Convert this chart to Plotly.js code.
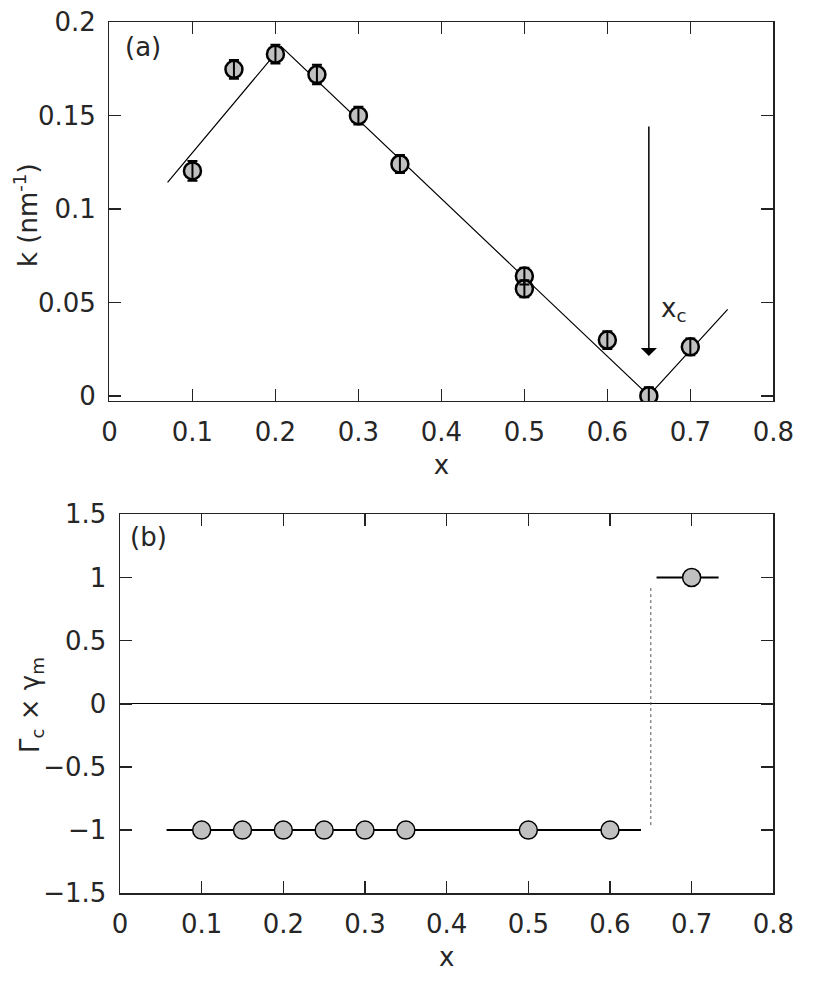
<!DOCTYPE html>
<html>
<head>
<meta charset="utf-8">
<script src="https://cdn.plot.ly/plotly-3.0.1.min.js"></script>
<style>html,body{margin:0;padding:0;background:#fff;}#chart{width:830px;height:1003px;}</style>
</head>
<body>
<div id="chart"></div>
<script>
// ---- panel (a) data ----
const xA   = [0.1, 0.15, 0.2, 0.25, 0.3, 0.35, 0.5, 0.5, 0.6, 0.65, 0.7];
const kA   = [0.1204, 0.1748, 0.1829, 0.1720, 0.1500, 0.1241, 0.0641, 0.0573, 0.0298, 0.0000, 0.0262];
const kErr = [0.0053, 0.0050, 0.0050, 0.0052, 0.0048, 0.0048, 0.0045, 0.0045, 0.0048, 0.0045, 0.0045];
const fitX = [0.07, 0.207, 0.65, 0.745];
const fitY = [0.1143, 0.187, 0.0, 0.0463];
const arrowX = 0.65, arrowTail = 0.145, arrowTip = 0.0213;

// ---- panel (b) data ----
const xB = [0.1, 0.15, 0.2, 0.25, 0.3, 0.35, 0.5, 0.6, 0.7];
const gB = [-1, -1, -1, -1, -1, -1, -1, -1, 1];
const lowX = [0.057, 0.638], lowY = [-1, -1];
const highX = [0.657, 0.733], highY = [1, 1];
const dotX = [0.65, 0.65], dotY = [-0.96, 0.934];

const xTicks = [0, 0.1, 0.2, 0.3, 0.4, 0.5, 0.6, 0.7, 0.8];
const xTickText = ['0', '0.1', '0.2', '0.3', '0.4', '0.5', '0.6', '0.7', '0.8'];
const kTicks = [0, 0.05, 0.1, 0.15, 0.2];
const kTickText = ['0', '0.05', '0.1', '0.15', '0.2'];
const gTicks = [-1.5, -1, -0.5, 0, 0.5, 1, 1.5];
const gTickText = ['\u22121.5', '\u22121', '\u22120.5', '0', '0.5', '1', '1.5'];

const TXT = '#262626';
const FONT = '"DejaVu Sans", sans-serif';
const FILL = '#c0c0c0';

const traces = [
  {x: fitX, y: fitY, xaxis: 'x', yaxis: 'y', mode: 'lines', line: {color: '#000', width: 1.2}, hoverinfo: 'skip'},
  {x: xA, y: kA, xaxis: 'x', yaxis: 'y', mode: 'markers',
   marker: {size: 17, color: FILL, line: {color: '#000', width: 2.5}}},
  {x: xA, y: kA, xaxis: 'x', yaxis: 'y', mode: 'markers',
   marker: {size: 1, opacity: 0},
   error_y: {type: 'data', array: kErr, symmetric: true, color: '#000', thickness: 2, width: 5}},
  {x: lowX, y: lowY, xaxis: 'x2', yaxis: 'y2', mode: 'lines', line: {color: '#000', width: 2}},
  {x: highX, y: highY, xaxis: 'x2', yaxis: 'y2', mode: 'lines', line: {color: '#000', width: 2}},
  {x: dotX, y: dotY, xaxis: 'x2', yaxis: 'y2', mode: 'lines', line: {color: '#555', width: 1, dash: 'dot'}},
  {x: xB, y: gB, xaxis: 'x2', yaxis: 'y2', mode: 'markers',
   marker: {size: 18, color: FILL, line: {color: '#000', width: 1.5}}}
];

const axisBase = {
  showline: true, mirror: 'ticks', linecolor: '#222', linewidth: 1.5,
  ticks: 'inside', ticklen: 12, tickwidth: 1.5, tickcolor: '#222',
  showgrid: false, zeroline: false,
  tickfont: {family: FONT, size: 26, color: TXT},
  ticklabelstandoff: 7
};

const layout = {
  width: 830, height: 1003,
  margin: {l: 0, r: 0, t: 0, b: 0},
  paper_bgcolor: '#fff', plot_bgcolor: '#fff',
  showlegend: false,
  font: {family: FONT, color: TXT},
  xaxis: Object.assign({}, axisBase, {
    domain: [0.1319, 0.9317], range: [0, 0.8], anchor: 'y',
    tickvals: xTicks, ticktext: xTickText,
    title: {text: 'x', font: {family: FONT, size: 26, color: TXT}, standoff: 10}
  }),
  yaxis: Object.assign({}, axisBase, {
    domain: [0.6002, 0.9778], range: [-0.0028, 0.2], anchor: 'x',
    tickvals: kTicks, ticktext: kTickText
  }),
  xaxis2: Object.assign({}, axisBase, {
    domain: [0.1446, 0.9317], range: [0, 0.8], anchor: 'y2',
    tickvals: xTicks, ticktext: xTickText,
    title: {text: 'x', font: {family: FONT, size: 26, color: TXT}, standoff: 10}
  }),
  yaxis2: Object.assign({}, axisBase, {
    domain: [0.1094, 0.4872], range: [-1.5, 1.5], anchor: 'x2',
    tickvals: gTicks, ticktext: gTickText,
    zeroline: true, zerolinecolor: '#000', zerolinewidth: 1.2
  }),
  annotations: [
    {x: 0.0313, y: 0.7856, xref: 'paper', yref: 'paper', xanchor: 'center', yanchor: 'middle', showarrow: false,
     textangle: -90, text: 'k (nm<sup>-1</sup>)', font: {family: FONT, size: 26, color: TXT}},
    {x: 0.0373, y: 0.297, xref: 'paper', yref: 'paper', xanchor: 'center', yanchor: 'middle', showarrow: false,
     textangle: -90, text: '\u0393<sub>c</sub> \u00d7 \u03b3<sub>m</sub>', font: {family: FONT, size: 26, color: TXT}},
    {x: arrowX, y: arrowTip, ax: arrowX, ay: arrowTail, xref: 'x', yref: 'y', axref: 'x', ayref: 'y',
     text: '', showarrow: true, arrowhead: 1, arrowsize: 1.8, arrowwidth: 1.5, arrowcolor: '#000'},
    {x: 0.662, y: 0.046, xref: 'x', yref: 'y', xanchor: 'left', yanchor: 'middle', showarrow: false,
     text: 'x<sub>c</sub>', font: {family: FONT, size: 26, color: TXT}},
    {x: 0.148, y: 0.953, xref: 'paper', yref: 'paper', xanchor: 'left', yanchor: 'middle', showarrow: false,
     text: '(a)', font: {family: FONT, size: 26, color: TXT}},
    {x: 0.154, y: 0.4646, xref: 'paper', yref: 'paper', xanchor: 'left', yanchor: 'middle', showarrow: false,
     text: '(b)', font: {family: FONT, size: 26, color: TXT}}
  ]
};

Plotly.newPlot('chart', traces, layout, {displayModeBar: false, staticPlot: true});
</script>
</body>
</html>
